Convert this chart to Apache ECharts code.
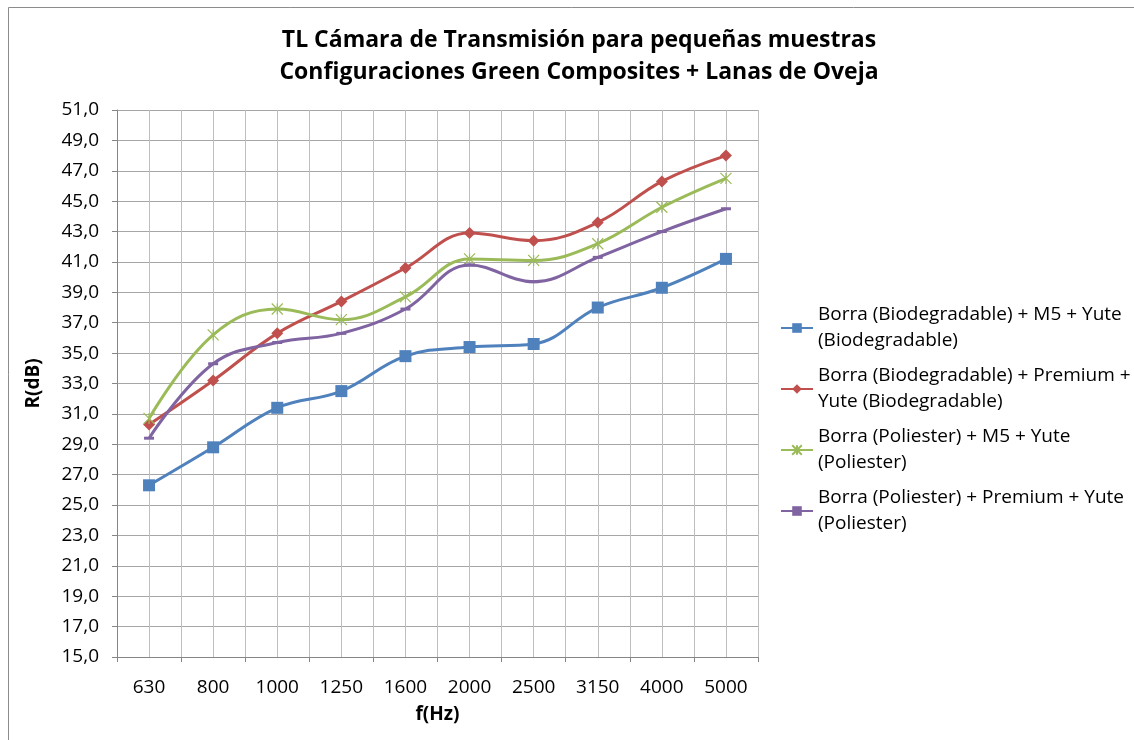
<!DOCTYPE html>
<html>
<head>
<meta charset="utf-8">
<script src="https://cdn.jsdelivr.net/npm/echarts@6/dist/echarts.min.js"></script>
<style>html,body{margin:0;padding:0;background:#fff}#c{width:1134px;height:740px}</style>
</head>
<body>
<div id="c"></div>
<script>
const categories = ['630','800','1000','1250','1600','2000','2500','3150','4000','5000'];
const seriesNames = [
  'Borra (Biodegradable) + M5 + Yute (Biodegradable)',
  'Borra (Biodegradable) + Premium + Yute (Biodegradable)',
  'Borra (Poliester) + M5 + Yute (Poliester)',
  'Borra (Poliester) + Premium + Yute (Poliester)'
];
const legendLines = [
  'Borra (Biodegradable) + M5 + Yute\n(Biodegradable)',
  'Borra (Biodegradable) + Premium +\nYute (Biodegradable)',
  'Borra (Poliester) + M5 + Yute\n(Poliester)',
  'Borra (Poliester) + Premium + Yute\n(Poliester)'
];
const bioM5 = [26.3, 28.8, 31.4, 32.5, 34.8, 35.4, 35.6, 38.0, 39.3, 41.2];
const bioPremium = [30.3, 33.2, 36.3, 38.4, 40.6, 42.9, 42.4, 43.6, 46.3, 48.0];
const polM5 = [30.7, 36.2, 37.9, 37.2, 38.7, 41.2, 41.1, 42.2, 44.6, 46.5];
const polPremium = [29.4, 34.3, 35.7, 36.3, 37.9, 40.8, 39.7, 41.3, 43.0, 44.5];
const titleLines = ['TL Cámara de Transmisión para pequeñas muestras', 'Configuraciones Green Composites + Lanas de Oveja'];
const yName = 'R(dB)';
const xName = 'f(Hz)';

const colors = ['#4F81BD', '#C0504D', '#9BBB59', '#8064A2'];
const symbols = ['rect', 'diamond', 'path://M0,0L10,10M10,0L0,10M5,0L5,10', 'rect'];
const symbolSizes = [12, 12, 11, [10, 3]];
const datasets = [bioM5, bioPremium, polM5, polPremium];
const FONT = 'Open Sans';

const chart = echarts.init(document.getElementById('c'), null, {renderer: 'canvas'});
const series = datasets.map((d, i) => ({
  name: seriesNames[i],
  type: 'line',
  data: d,
  smooth: 0.4,
  symbol: symbols[i],
  symbolSize: symbolSizes[i],
  showSymbol: true,
  lineStyle: {color: colors[i], width: 3},
  itemStyle: i === 2 ? {color: colors[i], borderColor: colors[i], borderWidth: 1.2} : {color: colors[i]},
  xAxisIndex: 0, yAxisIndex: 0,
  z: 3 + i
}));

chart.setOption({
  animation: false,
  backgroundColor: '#fff',
  color: colors,
  title: {
    text: titleLines.join('\n'),
    left: 574, textAlign: 'center', top: 19,
    textStyle: {fontFamily: FONT, fontWeight: 'bold', fontSize: 23, lineHeight: 32, color: '#000'}
  },
  grid: {left: 117, right: 376, top: 110, bottom: 83, containLabel: false},
  legend: {
    orient: 'vertical', left: 780, top: 289, padding: 0,
    itemWidth: 32, itemHeight: 12, itemGap: -17,
    data: seriesNames,
    formatter: name => legendLines[seriesNames.indexOf(name)],
    textStyle: {fontFamily: FONT, fontSize: 19, lineHeight: 26, color: '#000', padding: [26, 0, 0, 0]}
  },
  xAxis: [{
    type: 'category', data: categories, boundaryGap: true,
    name: xName, nameLocation: 'middle', nameGap: 48,
    nameTextStyle: {fontFamily: FONT, fontWeight: 'bold', fontSize: 19, color: '#000'},
    axisLine: {lineStyle: {color: '#868686', width: 1}},
    axisTick: {show: true, length: 5, lineStyle: {color: '#868686'}},
    axisLabel: {fontFamily: FONT, fontSize: 19, color: '#000', margin: 21},
    splitLine: {show: false}
  }, {
    type: 'value', min: 0, max: 20, interval: 1, position: 'top',
    axisLine: {show: false}, axisTick: {show: false}, axisLabel: {show: false},
    splitLine: {show: true, lineStyle: {color: '#BEBEBE', width: 1}}
  }],
  yAxis: {
    type: 'value', min: 15, max: 51, interval: 2,
    name: yName, nameLocation: 'middle', nameGap: 74, nameRotate: 90,
    nameTextStyle: {fontFamily: FONT, fontWeight: 'bold', fontSize: 19, color: '#000'},
    axisLine: {show: true, lineStyle: {color: '#868686'}},
    axisTick: {show: true, length: 5, lineStyle: {color: '#868686'}},
    axisLabel: {fontFamily: FONT, fontSize: 19, color: '#000', margin: 18, formatter: v => v.toFixed(1).replace('.', ',')},
    splitLine: {show: true, lineStyle: {color: '#A6A6A6', width: 1}}
  },
  graphic: [{
    type: 'rect', silent: true,
    shape: {x: 8.5, y: 7.5, width: 1140, height: 760},
    style: {fill: 'none', stroke: '#8C8C8C', lineWidth: 1}
  }],
  series: series
});
</script>
</body>
</html>
